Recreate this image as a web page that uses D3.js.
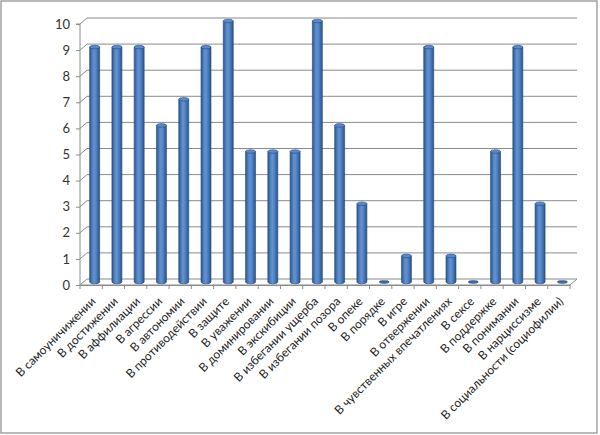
<!DOCTYPE html>
<html><head><meta charset="utf-8">
<script src="https://cdn.jsdelivr.net/npm/d3@7"></script>
<style>html,body{margin:0;padding:0;background:#fff;} svg{display:block;}</style>
</head><body>
<svg id="c" width="600" height="435"></svg>
<script>
const categories = ["В самоуничижении","В достижении","В аффилиации","В агрессии","В автономии","В противодействии","В защите","В уважении","В доминировании","В экскибиции","В избегании ущерба","В избегании позора","В опеке","В порядке","В игре","В отвержении","В чувственных впечатлениях","В сексе","В поддержке","В понимании","В нарциссизме","В социальности (социофилии)"];
const values = [9,9,9,6,7,9,10,5,5,5,10,6,3,0,1,9,1,0,5,9,3,0];
const yTicks = [0,1,2,3,4,5,6,7,8,9,10];

const svg = d3.select("#c");
const font = "Lato, 'Open Sans', sans-serif";
const dx = 7, dy = -6; // depth offset
const x = d3.scaleBand().domain(categories).range([80, 570]).padding(0);
const y = d3.scaleLinear().domain([0, 10]).range([285, 24]);

// outer border
svg.append("rect").attr("x",1).attr("y",1).attr("width",596).attr("height",432)
  .attr("fill","#fff").attr("stroke","#8c8c8c").attr("stroke-width",1.2);

const defs = svg.append("defs");
const g1 = defs.append("linearGradient").attr("id","cyl").attr("x1","0").attr("x2","1").attr("y1","0").attr("y2","0");
[[0,"#2b5487"],[0.25,"#4d80c0"],[0.45,"#6593d2"],[0.7,"#4a7dbd"],[1,"#2a5285"]].forEach(s=>g1.append("stop").attr("offset",s[0]).attr("stop-color",s[1]));

// gridlines (3D)
const grid = svg.append("g").attr("stroke","#8a8a8a").attr("stroke-width",1).attr("fill","none");
yTicks.forEach(t => {
  const yf = y(t);
  if (t === 0) return;
  grid.append("path").attr("d", `M${x.range()[0]},${yf}L${x.range()[0]+dx},${yf+dy}L${x.range()[1]+dx},${yf+dy}`);
});
// floor
grid.append("path").attr("d", `M${x.range()[0]},${y(0)}L${x.range()[1]},${y(0)}L${x.range()[1]+dx},${y(0)+dy}L${x.range()[0]+dx},${y(0)+dy}Z`);

// y axis
const yAxis = d3.axisLeft(y).tickValues(yTicks).tickSize(4).tickPadding(6).tickFormat(d3.format("d"));
const ya = svg.append("g").attr("transform","translate(80,0)").call(yAxis);
ya.select(".domain").attr("stroke","#8a8a8a").attr("d", `M-4,${y(10)}H0V${y(0)}`);
ya.selectAll(".tick line").attr("stroke","#8a8a8a");
ya.selectAll("text").attr("font-family",font).attr("font-size",13).attr("fill","#333");

// x axis
const xAxis = d3.axisBottom(x).tickSize(0).tickFormat(d=>d);
const xa = svg.append("g").attr("transform",`translate(0,${y(0)})`).call(xAxis);
xa.select(".domain").attr("stroke","#8a8a8a");
xa.selectAll("text").attr("font-family",font).attr("font-size",12).attr("fill","#222")
  .attr("text-anchor","end").attr("dy",null).attr("y",null)
  .attr("transform","translate(3,15) rotate(-45)")
  .attr("dominant-baseline","middle");
// category boundary ticks
const bounds = categories.map((c,i)=>x(c)).concat([x.range()[1]]);
svg.append("g").selectAll("line").data(bounds).join("line")
  .attr("x1",d=>d).attr("x2",d=>d).attr("y1",y(0)).attr("y2",y(0)+4)
  .attr("stroke","#8a8a8a");

// bars (cylinders)
const bw = 10, ry = 1.8;
const bars = svg.append("g");
categories.forEach((c,i)=>{
  const v = values[i];
  const cx = x(c) + x.bandwidth()/2 + dx/2;
  const y0 = y(0) + dy/2, y1 = y(v) + dy/2;
  if (v > 0) {
    bars.append("path")
      .attr("d", `M${cx-bw/2},${y1}V${y0}A${bw/2},${ry} 0 0 0 ${cx+bw/2},${y0}V${y1}Z`)
      .attr("fill","url(#cyl)").attr("stroke","#254a78").attr("stroke-width",0.6);
    bars.append("ellipse").attr("cx",cx).attr("cy",y1).attr("rx",bw/2).attr("ry",ry)
      .attr("fill","#5a8acb").attr("stroke","#254a78").attr("stroke-width",0.6);
  } else {
    bars.append("ellipse").attr("cx",cx).attr("cy",y0).attr("rx",bw/2).attr("ry",ry*0.8)
      .attr("fill","#3e6ca8").attr("stroke","#254a78").attr("stroke-width",0.5);
  }
});
</script>
</body></html>
